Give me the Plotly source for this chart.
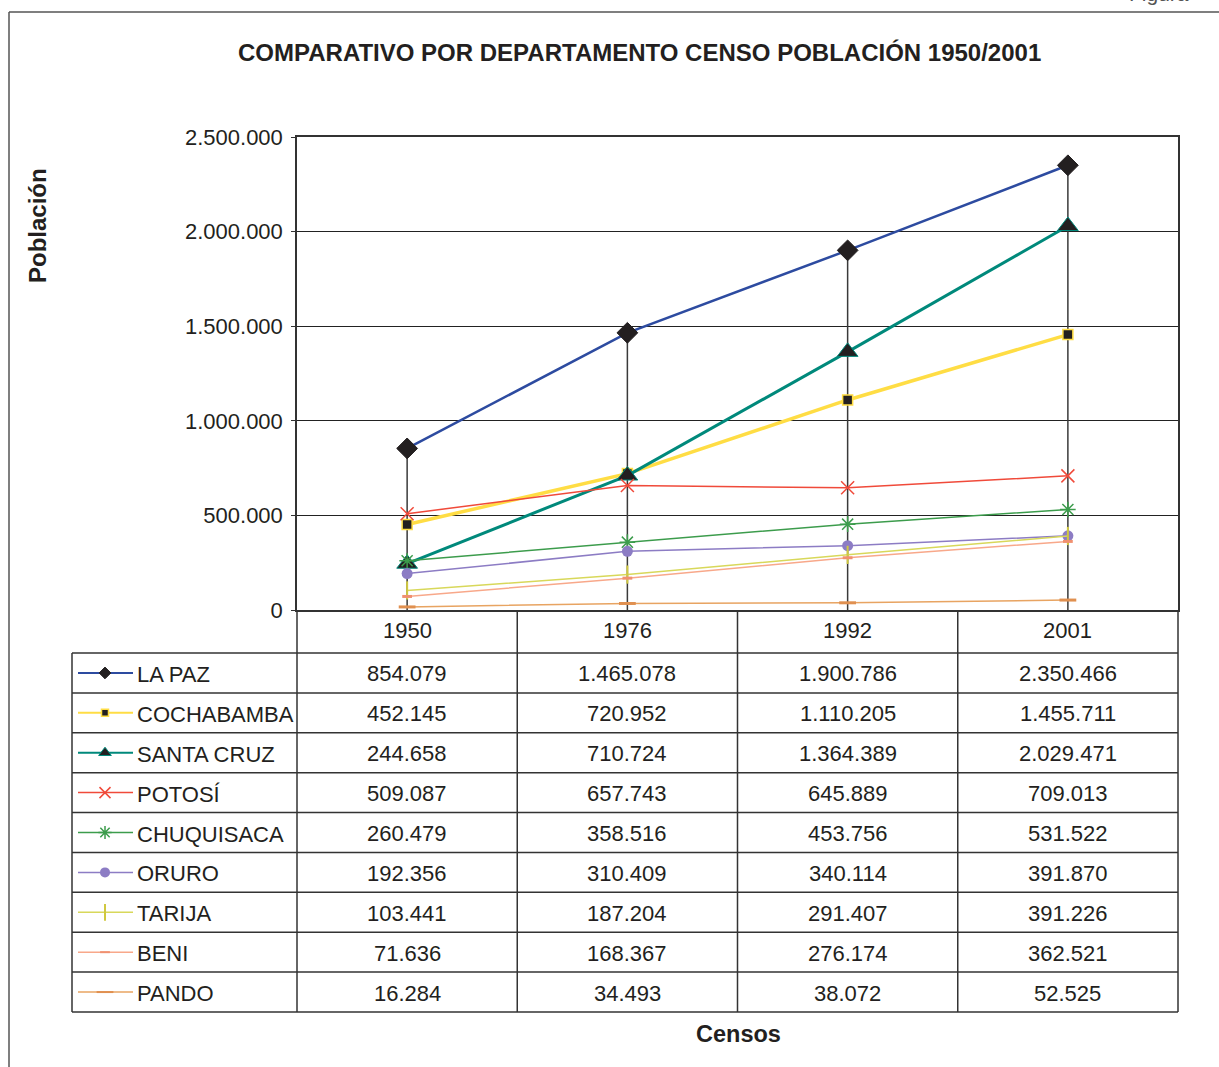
import plotly.graph_objects as go

# ---------------- data ----------------
censos = ["1950", "1976", "1992", "2001"]
departamentos = ["LA PAZ", "COCHABAMBA", "SANTA CRUZ", "POTOSÍ", "CHUQUISACA",
                 "ORURO", "TARIJA", "BENI", "PANDO"]
la_paz = [854079, 1465078, 1900786, 2350466]
cochabamba = [452145, 720952, 1110205, 1455711]
santa_cruz = [244658, 710724, 1364389, 2029471]
potosi = [509087, 657743, 645889, 709013]
chuquisaca = [260479, 358516, 453756, 531522]
oruro = [192356, 310409, 340114, 391870]
tarija = [103441, 187204, 291407, 391226]
beni = [71636, 168367, 276174, 362521]
pando = [16284, 34493, 38072, 52525]
y_ticks = [0, 500000, 1000000, 1500000, 2000000, 2500000]

series = [la_paz, cochabamba, santa_cruz, potosi, chuquisaca, oruro, tarija, beni, pando]

# ---------------- styles ----------------
FONT = "Liberation Sans, Arial, sans-serif"
TXT = "#231f20"
FS = 22
styles = [
    dict(lc="#2d4ba0", lw=2.5, sym="diamond", ms=16, ks=9, mc="#231f20", ml="#231f20", mlw=1),
    dict(lc="#ffdd44", lw=3.5, sym="square", ms=10, ks=7, mc="#231f20", ml="#ffdd44", mlw=1.5),
    dict(lc="#00897b", lw=3, sym="triangle-up", ms=18, ks=11, mc="#231f20", ml="#00897b", mlw=1),
    dict(lc="#f04a3a", lw=1.5, sym="x-thin-open", ms=13, ks=11, mc="#f04a3a", ml="#f04a3a", mlw=1.5),
    dict(lc="#3c9c4c", lw=1.5, sym="asterisk-open", ms=13, ks=11, mc="#3c9c4c", ml="#3c9c4c", mlw=1.5),
    dict(lc="#8c7cc4", lw=1.5, sym="circle", ms=11, ks=10, mc="#8c7cc4", ml="#8c7cc4", mlw=0),
    dict(lc="#d8d85a", lw=1.5, sym="line-ns-open", ms=13, ks=12, mc="#d0c840", ml="#d0c840", mlw=2),
    dict(lc="#f8a88a", lw=1.5, sym="line-ew-open", ms=7, ks=7, mc="#f09070", ml="#f09070", mlw=3),
    dict(lc="#e8a462", lw=1.5, sym="line-ew-open", ms=12, ks=12, mc="#e09050", ml="#e09050", mlw=3),
]

# ---------------- geometry (pixels) ----------------
W, H = 1219, 1067
PL, PR, PT, PB = 297, 1178, 137, 610      # plot area
TL, HB, TB = 72, 653, 1012                # table left, header bottom, table bottom
ROWH = (TB - HB) / len(departamentos)
def px(x): return x / W
def py(y): return 1 - y / H

fig = go.Figure()

# drop lines from the highest value to the axis in each category
dx, dy = [], []
for i, c in enumerate(censos):
    dx += [c, c, None]
    dy += [max(s[i] for s in series), 0, None]
fig.add_trace(go.Scatter(x=dx, y=dy, mode="lines", line=dict(color="#3a3a3a", width=1.5),
                         hoverinfo="skip", showlegend=False))

# series, in order (later series drawn on top, as in the original)
for name, vals, st in zip(departamentos, series, styles):
    fig.add_trace(go.Scatter(
        x=censos, y=vals, name=name, mode="lines+markers",
        line=dict(color=st["lc"], width=st["lw"]),
        marker=dict(symbol=st["sym"], size=st["ms"], color=st["mc"],
                    line=dict(color=st["ml"], width=st["mlw"])),
        cliponaxis=False, showlegend=False))

# legend keys in the first column of the table (pixel-coordinate axes)
for i, (name, st) in enumerate(zip(departamentos, styles)):
    yc = HB + ROWH * (i + 0.5)
    fig.add_trace(go.Scatter(x=[78, 133], y=[yc, yc], mode="lines", xaxis="x2", yaxis="y2",
                             line=dict(color=st["lc"], width=min(st["lw"], 2)),
                             hoverinfo="skip", showlegend=False))
    fig.add_trace(go.Scatter(x=[105], y=[yc], mode="markers", xaxis="x2", yaxis="y2",
                             marker=dict(symbol=st["sym"], size=st["ks"], color=st["mc"],
                                         line=dict(color=st["ml"], width=min(st["mlw"], 2))),
                             cliponaxis=False, hoverinfo="skip", showlegend=False))
    fig.add_trace(go.Scatter(x=[137], y=[yc + 3.5], mode="text", text=[name], textposition="middle right",
                             xaxis="x2", yaxis="y2", textfont=dict(family=FONT, size=FS, color=TXT),
                             cliponaxis=False, hoverinfo="skip", showlegend=False))

annotations = []
# table values (x = category index on the category axis)
for i, vals in enumerate(series):
    yc = HB + ROWH * (i + 0.5)
    for j, v in enumerate(vals):
        annotations.append(dict(x=j, xref="x", y=py(yc + 1), yref="paper", showarrow=False,
                                text=f"{v:,}".replace(",", "."), xanchor="center", yanchor="middle",
                                font=dict(family=FONT, size=FS, color=TXT)))
# header years
for j, c in enumerate(censos):
    annotations.append(dict(x=j, xref="x", y=py((PB + HB) / 2 - 1), yref="paper", showarrow=False,
                            text=c, xanchor="center", yanchor="middle",
                            font=dict(family=FONT, size=FS, color=TXT)))
# titles
annotations += [
    dict(x=px(639), y=py(53), xref="paper", yref="paper", showarrow=False,
         text="<b>COMPARATIVO POR DEPARTAMENTO CENSO POBLACIÓN 1950/2001</b>",
         font=dict(family=FONT, size=24, color=TXT), xanchor="center", yanchor="middle"),
    dict(x=px(38), y=py(226), xref="paper", yref="paper", showarrow=False, textangle=-90,
         text="<b>Población</b>", font=dict(family=FONT, size=24, color=TXT),
         xanchor="center", yanchor="middle"),
    dict(x=px(738), y=py(1034), xref="paper", yref="paper", showarrow=False,
         text="<b>Censos</b>", font=dict(family=FONT, size=23.5, color=TXT),
         xanchor="center", yanchor="middle"),
    dict(x=px(1127), y=py(7), xref="paper", yref="paper", showarrow=False,
         text="Figura", font=dict(family=FONT, size=21, color="#555"),
         xanchor="left", yanchor="bottom"),
]

# table grid + outer frame
LC = "#333333"
shapes = []
colw = (PR - PL) / len(censos)
for k in range(len(departamentos) + 1):
    yy = HB + ROWH * k
    shapes.append(dict(type="line", xref="paper", yref="paper", x0=px(TL), x1=px(PR),
                       y0=py(yy), y1=py(yy), line=dict(color=LC, width=1.5)))
shapes.append(dict(type="line", xref="paper", yref="paper", x0=px(TL), x1=px(TL),
                   y0=py(HB), y1=py(TB), line=dict(color=LC, width=1.5)))
for j in range(len(censos) + 1):
    xx = PL + colw * j
    shapes.append(dict(type="line", xref="paper", yref="paper", x0=px(xx), x1=px(xx),
                       y0=py(PB), y1=py(TB), line=dict(color=LC, width=1.5)))
shapes.append(dict(type="line", xref="paper", yref="paper", x0=px(9), x1=px(9),
                   y0=py(12), y1=0, line=dict(color="#555", width=1.5)))
shapes.append(dict(type="line", xref="paper", yref="paper", x0=px(9), x1=1,
                   y0=py(12), y1=py(12), line=dict(color="#555", width=1.5)))

fig.update_layout(
    width=W, height=H, margin=dict(l=0, r=0, t=0, b=0, autoexpand=False),
    paper_bgcolor="white", plot_bgcolor="rgba(0,0,0,0)",
    separators=",.", showlegend=False,
    font=dict(family=FONT, color=TXT),
    xaxis=dict(domain=[px(PL), px(PR)], type="category", categoryorder="array",
               categoryarray=censos, range=[-0.5, len(censos) - 0.5], automargin=False,
               showgrid=False, showline=True, mirror=True, linecolor=LC, linewidth=1.5,
               ticks="", showticklabels=False, zeroline=False, fixedrange=True),
    yaxis=dict(domain=[py(PB), py(PT)], range=[0, 2500000], tickvals=y_ticks,
               tickformat=",d", showgrid=True, gridcolor="#222", gridwidth=1.3,
               showline=True, mirror=True, linecolor=LC, linewidth=1.5, automargin=False,
               ticks="outside", ticklen=4, tickcolor=LC, ticklabelstandoff=4,
               tickfont=dict(family=FONT, size=FS, color=TXT), zeroline=False),
    xaxis2=dict(domain=[px(TL), px(PL)], range=[TL, PL], visible=False, fixedrange=True,
                automargin=False),
    yaxis2=dict(domain=[py(TB), py(HB)], range=[TB, HB], visible=False, fixedrange=True,
                automargin=False),
    annotations=annotations, shapes=shapes,
)

post = ("document.body.style.margin='0';"
        "var g=document.getElementById('{plot_id}');"
        "g.style.position='fixed';g.style.top='0px';g.style.left='0px';")
fig.write_html("out.html", config={"displayModeBar": False}, post_script=post)
